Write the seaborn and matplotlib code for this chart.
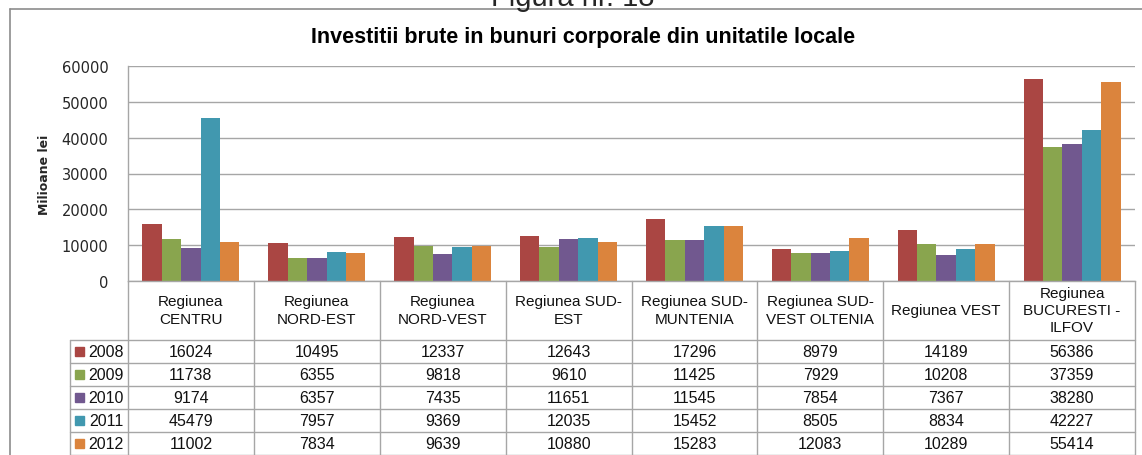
import matplotlib
matplotlib.use("Agg")
import matplotlib.pyplot as plt
import matplotlib.transforms as mtransforms
from matplotlib.lines import Line2D
from matplotlib.patches import Rectangle
import seaborn as sns
import pandas as pd

regions = ["Regiunea\nCENTRU", "Regiunea\nNORD-EST", "Regiunea\nNORD-VEST",
           "Regiunea SUD-\nEST", "Regiunea SUD-\nMUNTENIA", "Regiunea SUD-\nVEST OLTENIA",
           "Regiunea VEST", "Regiunea\nBUCURESTI -\nILFOV"]
years = ["2008", "2009", "2010", "2011", "2012"]
v2008 = [16024, 10495, 12337, 12643, 17296, 8979, 14189, 56386]
v2009 = [11738, 6355, 9818, 9610, 11425, 7929, 10208, 37359]
v2010 = [9174, 6357, 7435, 11651, 11545, 7854, 7367, 38280]
v2011 = [45479, 7957, 9369, 12035, 15452, 8505, 8834, 42227]
v2012 = [11002, 7834, 9639, 10880, 15283, 12083, 10289, 55414]
yticks = [0, 10000, 20000, 30000, 40000, 50000, 60000]
colors = ["#AA4643", "#89A54E", "#71588F", "#4198AF", "#DB843D"]

series = [v2008, v2009, v2010, v2011, v2012]
rows = []
for y, vals in zip(years, series):
    for r, v in zip(regions, vals):
        rows.append({"region": r, "year": y, "value": v})
df = pd.DataFrame(rows)

sns.set_theme(style="white")
plt.rcParams["font.family"] = ["Liberation Sans", "DejaVu Sans"]

W, H = 1142, 456
fig = plt.figure(figsize=(W / 100, H / 100), dpi=100)
L, R, T, B = 128, 1135, 67, 282
ax = fig.add_axes([L / W, 1 - B / H, (R - L) / W, (B - T) / H])

sns.barplot(data=df, x="region", y="value", hue="year", order=regions,
            hue_order=years, palette=colors, width=0.77, linewidth=0,
            saturation=1, legend=False, ax=ax)
ax.set_xlim(-0.5, len(regions) - 0.5)
ax.set_ylim(0, 60000)
ax.set_yticks(yticks)
ax.set_yticklabels([str(t) for t in yticks], fontsize=10.5, family="DejaVu Sans")
ax.tick_params(axis="y", length=0, pad=14)
ax.set_xticks([])
ax.set_xlabel("")
ax.set_ylabel("")
ax.yaxis.grid(True, color="#A6A6A6", linewidth=1)
ax.set_axisbelow(True)
for s in ["top", "right"]:
    ax.spines[s].set_visible(False)
for s in ["left", "bottom"]:
    ax.spines[s].set_color("#A6A6A6")
    ax.spines[s].set_linewidth(1)

# Y label
fig.text(45 / W, 1 - 175 / H, "Milioane lei", rotation=90, ha="center", va="center",
         fontsize=9, fontweight="bold", family="DejaVu Sans")

# Title
fig.text(583 / W, 1 - 38 / H, "Investitii brute in bunuri corporale din unitatile locale",
         ha="center", va="center", fontsize=15.5, fontweight="bold", color="black")

# Clipped page caption
fig.text(573 / W, 1 - 6 / H, "Figura nr. 18", ha="center", va="baseline", fontsize=21)

# Chart border
fig.add_artist(Line2D([10 / W, 1], [1 - 10 / H, 1 - 10 / H], color="#8C8C8C", lw=1.2,
                      transform=fig.transFigure))
fig.add_artist(Line2D([10 / W, 10 / W], [0, 1 - 10 / H], color="#8C8C8C", lw=1.2,
                      transform=fig.transFigure))

# Data table
tr = mtransforms.blended_transform_factory(ax.transData, fig.transFigure)
trf = fig.transFigure
lc = "#A6A6A6"
tc = "#111111"
n = len(regions)
row_tops = [341, 364, 387, 410, 433]
bottom_px = 455.5
fy = lambda p: 1 - p / H

for i in range(n + 1):
    x = i - 0.5
    ax.add_line(Line2D([x, x], [fy(B), fy(bottom_px)], color=lc, lw=1,
                       transform=tr, clip_on=False))
fig.add_artist(Line2D([70 / W, 70 / W], [fy(row_tops[0]), fy(bottom_px)], color=lc, lw=1,
                      transform=trf))
for p in row_tops + [bottom_px]:
    fig.add_artist(Line2D([70 / W, R / W], [fy(p), fy(p)], color=lc, lw=1, transform=trf))

for i, r in enumerate(regions):
    ax.text(i, fy(311), r, transform=tr, ha="center", va="center", fontsize=11,
            linespacing=1.3, color=tc)

for k, (y, vals, c) in enumerate(zip(years, series, colors)):
    yc = fy(row_tops[k] + 11.5)
    fig.add_artist(Rectangle((75 / W, yc - 4.5 / H), 9 / W, 9 / H, color=c, transform=trf))
    fig.text(106 / W, yc, y, ha="center", va="center", fontsize=11.5, color=tc)
    for i, v in enumerate(vals):
        ax.text(i, yc, str(v), transform=tr, ha="center", va="center", fontsize=11.5,
                color=tc)

fig.savefig("out.png", dpi=100)
